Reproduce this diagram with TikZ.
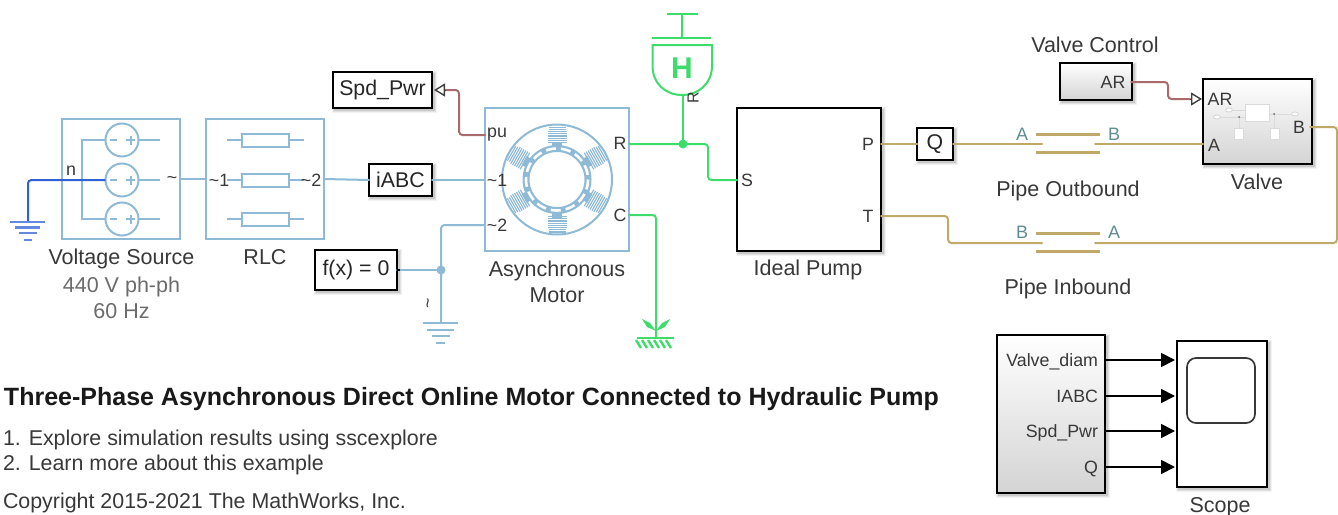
\documentclass[tikz,border=0pt]{standalone}
\usepackage{fontspec}
\setmainfont{Liberation Sans}
\usetikzlibrary{arrows.meta}
\definecolor{lb}{HTML}{8FBAD6}
\definecolor{grn}{HTML}{3DDC6B}
\definecolor{dblue}{HTML}{2F62D4}
\definecolor{rd}{HTML}{A86A6A}
\definecolor{gld}{HTML}{BFA868}
\definecolor{teal2}{HTML}{5F8C90}
\definecolor{lab}{HTML}{383838}
\definecolor{icon}{HTML}{DADADA}
\newcommand{\fs}[1]{\fontsize{#1}{#1}\selectfont}
\tikzset{
  every node/.style={inner sep=0pt,outer sep=0pt,text=lab},
  sh/.style={preaction={draw=black,draw opacity=.05,line width=6pt,transform canvas={xshift=2pt,yshift=-2pt}},
             preaction={draw=black,draw opacity=.07,line width=4pt,transform canvas={xshift=2pt,yshift=-2pt}},
             preaction={draw=black,draw opacity=.10,line width=2pt,transform canvas={xshift=2pt,yshift=-2pt}}},
  physblock/.style={draw=lb,line width=2.6pt,fill=white},
  blackblock/.style={draw=black,line width=1.7pt,fill=white,sh},
  gradblock/.style={draw=black,line width=1.7pt,top color=white,bottom color=black!17,sh},
  wire/.style={rounded corners=3.5pt,line width=2pt,line cap=round},
  bluewire/.style={wire,draw=lb},
  greenwire/.style={wire,draw=grn},
  goldwire/.style={wire,draw=gld},
  redwire/.style={wire,draw=rd},
  txt/.style={font=\fs{21.5},text=lab,anchor=base},
  boxtxt/.style={font=\fs{21.3},text=black!85},
  port/.style={font=\fs{17.8},text=lab},
  tport/.style={font=\fs{18},text=teal2},
  opentip/.style={-{Triangle[open,length=11pt,width=13pt,line width=1.4pt]}},
  sigtip/.style={-{Triangle[length=14pt,width=14pt]},line width=1.8pt,draw=black},
  iconline/.style={draw=icon,line width=1pt},
}
\begin{document}
\begin{tikzpicture}[x=1pt,y=-1pt]
\useasboundingbox (0,0) rectangle (1338,514);
% ---------- blocks
\node[physblock,minimum width=118pt,minimum height=120pt] (vs) at (121,179) {};
\node[physblock,minimum width=118pt,minimum height=120pt] (rlc) at (265,179) {};
\node[physblock,minimum width=144pt,minimum height=143pt] (mot) at (557,179.5) {};
\node[blackblock,minimum width=144pt,minimum height=143pt] (pump) at (809,179.5) {};
\node[blackblock,boxtxt,minimum width=63pt,minimum height=32pt] (iabc) at (400.5,180) {iABC};
\node[blackblock,boxtxt,minimum width=99pt,minimum height=36pt] (spd) at (382.5,90) {Spd\_Pwr};
\node[blackblock,boxtxt,minimum width=82pt,minimum height=40pt] (fx) at (356,270) {f(x) = 0};
\node[blackblock,boxtxt,minimum width=36pt,minimum height=32pt] (q) at (935,144) {Q};
\node[gradblock,minimum width=72pt,minimum height=37pt] (vc) at (1096,81.5) {};
\node[gradblock,minimum width=109pt,minimum height=85pt] (valve) at (1257.5,121.5) {};
\node[gradblock,minimum width=108pt,minimum height=158pt] (dash) at (1051,414) {};
\node[blackblock,minimum width=90pt,minimum height=146pt] (scope) at (1222,414) {};
% ---------- named ports
\coordinate (gnd1) at (28,222);
\coordinate (vsn) at (105,180);
\coordinate (mp) at (485,135);
\coordinate (m2) at (485,225);
\coordinate (mR) at (629,144);
\coordinate (mC) at (629,215);
\coordinate (jR) at (683,144);
\coordinate (pS) at (737,180);
\coordinate (hyd) at (683,95);
\coordinate (jf) at (441,270);
\coordinate (gnd2) at (441,323);
\coordinate (gnd3) at (656,338);
\coordinate (pP) at (881,144);
\coordinate (pT) at (881,216);
\coordinate (oA) at (1042,144);
\coordinate (oB) at (1095,144);
\coordinate (iB) at (1042,243);
\coordinate (iA) at (1095,243);
\coordinate (vA) at (1203,144);
\coordinate (vB) at (1310,127);
\coordinate (vAR) at (1202,99);
\coordinate (vcAR) at (1131,82);
\coordinate (spdin) at (434,90);
% ---------- voltage source icon
\foreach \y in {140,180,219}{
  \draw[draw=lb,line width=2pt,fill=white] (122,\y) circle (16.5);
  \draw[draw=lb,line width=2pt] (110,\y) -- (117,\y) (126,\y) -- (135,\y) (130.5,\y-4.5) -- (130.5,\y+4.5);
  \draw[draw=lb,line width=2pt] (138.5,\y) -- (160,\y);
}
\draw[draw=lb,line width=2pt] (105.5,140) -- (82,140) -- (82,219) -- (105.5,219);
% RLC icon
\foreach \y in {140,180,219}{
  \draw[draw=lb,line width=2pt] (227,\y) -- (242,\y) (289,\y) -- (304,\y);
  \draw[draw=lb,line width=2pt,fill=white] (242,\y-6.5) rectangle (289,\y+6.5);
}
% motor icon
\draw[draw=lb,line width=2pt] (557,179.5) circle (55);
\foreach \a in {90,30,-30,-90,-150,150}{
  \begin{scope}[shift={(557,179.5)},rotate=\a]
    \foreach \r in {37,39.2,...,54}{
      \pgfmathsetmacro{\hw}{\r>50?8.5:9.5}
      \draw[draw=lb,line width=1.2pt] (\r,-\hw) -- (\r,\hw);
    }
    \fill[lb] (33,-5) rectangle (38,5);
  \end{scope}
}
\draw[draw=lb,line width=7pt] (557,179.5) circle (31);
\draw[draw=white,line width=2.6pt,dash pattern=on 10pt off 5pt] (557,179.5) circle (31);
% ---------- wires: electrical
\draw[bluewire] (vs.east) -- (rlc.west);
\draw[bluewire] (rlc.east) -- (iabc.west);
\draw[bluewire] (iabc.east) -- (485,180);
\draw[bluewire] (m2) -| (gnd2);
\draw[bluewire] (fx.east) -- (jf);
\fill[lb] (jf) circle (4.5);
\draw[draw=black,line width=2.5pt] (fx.east) -- +(3,0);
\draw[wire,draw=dblue] (vsn) -| (gnd1);
\foreach \y/\w in {0/17.5,5.5/12.5,11/9,18/4}{
  \draw[draw=dblue!75,line width=2.2pt] (27.5-\w,222+\y) -- (27.5+\w,222+\y);
}
\foreach \y/\w in {0/17.5,7/13.5,13/9,20/4.5}{
  \draw[draw=lb,line width=2.2pt] (440.5-\w,323+\y) -- (440.5+\w,323+\y);
}
% ---------- red signal wires
\draw[redwire] (mp) -| (459,90) -- (445,90);
\draw[opentip,draw=black!75] (445,90) -- (spdin);
\draw[redwire] (vcAR) -| (1168,99) -- (1190,99);
\draw[opentip,draw=black!75] (1190,99) -- (vAR);
% ---------- green mechanical
\draw[greenwire] (mR) -- (jR) -- (708,144) |- (pS);
\draw[greenwire] (jR) -- (hyd);
\fill[grn] (jR) circle (4.5);
\draw[greenwire] (mC) -| (gnd3);
\draw[draw=grn,line width=2pt] (652.5,45) -- (712,45) -- (712,66) .. controls (712,83) and (699,95) .. (682,95) .. controls (665,95) and (652.5,83) .. (652.5,66) -- cycle;
\draw[draw=grn,line width=2pt] (652,38) -- (711,38) (682,38) -- (682,14) (667,14) -- (698,14);
\node[font=\bfseries\fs{30},text=grn] (hlab) at (682,68) {H};
\node[font=\fs{16},text=lab,rotate=90] (rlab) at (693,98) {R};
% mech ground
\draw[draw=grn,line width=2.2pt] (637,338) -- (674,338);
\foreach \x in {636,642,...,668}{
  \draw[draw=grn,line width=2.4pt] (\x,340) -- (\x+5,348);
}
\fill[grn] (656,331) -- (647,327) -- (642,319) -- (650,323) -- cycle;
\fill[grn] (656,331) -- (665,327) -- (670,319) -- (662,323) -- cycle;
% ---------- gold hydraulic
\draw[goldwire] (pP) -- (q.west);
\draw[goldwire] (q.east) -- (oA);
\draw[goldwire] (oB) -- (vA);
\draw[goldwire] (pT) -| (948,243) -- (iB);
\draw[goldwire] (iA) -- (1337,243) |- (vB);
\foreach \y in {134,152,233,251}{
  \draw[draw=gld,line width=3pt] (1036,\y) -- (1100,\y);
}
% ---------- signal arrows
\foreach \y in {360,396,431,467}{
  \draw[sigtip] (1105,\y) -- (1175,\y);
}
\draw[draw=lab,line width=1.7pt,rounded corners=9pt] (1187,358) rectangle (1255,423);
% ---------- valve icon
\draw[iconline,fill=white] (1245,104) rectangle (1269,121);
\draw[iconline] (1233,110) -- (1245,110) (1221,117) -- (1245,117) (1269,114) -- (1291,114) (1239,117) -- (1239,128) (1274,114) -- (1274,128);
\draw[iconline,fill=white] (1229,110) ellipse (3.5 and 2);
\draw[iconline,fill=white] (1217,117) ellipse (3.5 and 2);
\draw[iconline,fill=white] (1295,114) ellipse (3.5 and 2);
\draw[iconline,fill=white] (1234.5,128) rectangle (1243.5,139);
\draw[iconline,fill=white] (1270,128) rectangle (1279,139);
\fill[black!60] (1239,117) circle (1) (1274,114) circle (1);
% ---------- port labels
\node[port] (ln) at (71,171) {n};
\node[port] (lt0) at (172,180) {\textasciitilde};
\node[port] (lr1) at (219,180) {\textasciitilde 1};
\node[port] (lr2) at (311,180) {\textasciitilde 2};
\node[port] (lpu) at (497,135) {pu};
\node[port] (lm1) at (497,180) {\textasciitilde 1};
\node[port] (lm2) at (497,225) {\textasciitilde 2};
\node[port] (lmr) at (620,143) {R};
\node[port] (lmc) at (620,215) {C};
\node[port] (ls) at (747,180) {S};
\node[port] (lpp) at (868,144) {P};
\node[port] (lpt) at (868,216) {T};
\node[port,rotate=90] (lg) at (430,303) {\textasciitilde};
\node[tport] (oal) at (1022,134) {A};
\node[tport] (obl) at (1114,134) {B};
\node[tport] (ibl) at (1022,232) {B};
\node[tport] (ial) at (1114,232) {A};
\node[port] (vcl) at (1113,82) {AR};
\node[port] (val) at (1220,99) {AR};
\node[port] (vaa) at (1214,145) {A};
\node[port] (vbb) at (1299,127) {B};
\node[port,anchor=base east] (d1) at (1098,366) {Valve\_diam};
\node[port,anchor=base east] (d2) at (1098,402) {IABC};
\node[port,anchor=base east] (d3) at (1098,437) {Spd\_Pwr};
\node[port,anchor=base east] (d4) at (1098,473) {Q};
% ---------- captions
\node[txt] (c1) at (121.5,264) {Voltage Source};
\node[txt,text=black!58] (c2) at (121.5,292.5) {440 V ph-ph};
\node[txt,text=black!58] (c3) at (121.5,318) {60 Hz};
\node[txt] (c4) at (265,264) {RLC};
\node[txt] (c5) at (557,276.5) {Asynchronous};
\node[txt] (c6) at (557,302) {Motor};
\node[txt] (c7) at (808,275.5) {Ideal Pump};
\node[txt] (c8) at (1068,196) {Pipe Outbound};
\node[txt] (c9) at (1068,294) {Pipe Inbound};
\node[txt] (c10) at (1257,189) {Valve};
\node[txt] (c11) at (1095,52) {Valve Control};
\node[txt] (c12) at (1220,512) {Scope};
\node[anchor=base west,font=\bfseries\fs{25},text=black!90] (t1) at (4,405) {Three-Phase Asynchronous Direct Online Motor Connected to Hydraulic Pump};
\node[anchor=base west,font=\fs{21.4}] (t2) at (3,445) {1. Explore simulation results using sscexplore};
\node[anchor=base west,font=\fs{21.4}] (t3) at (3,470) {2. Learn more about this example};
\node[anchor=base west,font=\fs{21.4}] (t4) at (3,508) {Copyright 2015-2021 The MathWorks, Inc.};
\end{tikzpicture}
\end{document}
